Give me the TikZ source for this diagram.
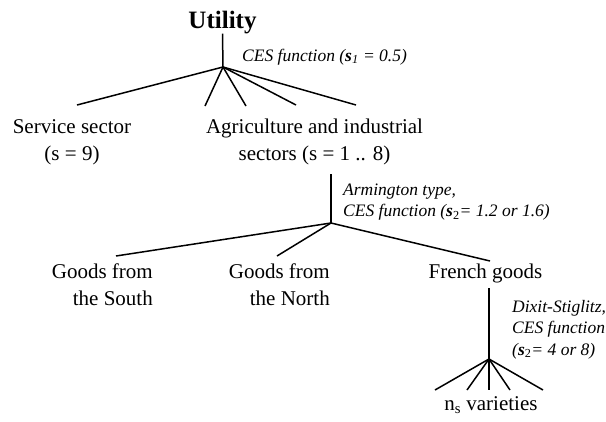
\documentclass[tikz,border=0pt]{standalone}
\usepackage{fontspec}
\setmainfont{Liberation Serif}
\tikzset{
  branch/.style={line width=1.5pt, line cap=butt},
  body/.style={inner sep=0pt, font=\fontsize{21}{27}\selectfont},
  title/.style={inner sep=0pt, font=\fontsize{25}{30}\selectfont\bfseries},
  note/.style={inner sep=0pt, anchor=base west, font=\fontsize{17.5}{21.5}\selectfont\itshape},
}
\newcommand{\sig}{\textbf{\textit{s}}}
\newcommand{\ctext}[1]{\begin{tabular}[t]{@{}c@{}}#1\end{tabular}}
\newcommand{\rtext}[1]{\begin{tabular}[t]{@{}r@{}}#1\end{tabular}}
\newcommand{\ltext}[1]{\begin{tabular}[t]{@{}l@{}}#1\end{tabular}}
\begin{document}
\begin{tikzpicture}[x=1pt,y=-1pt]
\useasboundingbox (0,0) rectangle (606,421);
% level 0
\node[title, anchor=base] (u) at (222.5,28) {Utility};
\coordinate (j1) at (223,67);
\draw[branch] (u.south) -- (j1);
\node[note] (l1) at (242,61) {CES function (\sig\textsubscript{\textit{1}} = 0.5)};
\coordinate (e11) at (77,105);
\coordinate (e12) at (205,106);
\coordinate (e13) at (246,106);
\coordinate (e14) at (296,105);
\coordinate (e15) at (356,105);
\foreach \e in {e11,e12,e13,e14,e15} \draw[branch] (j1) -- (\e);
% level 1
\node[body, anchor=base] (serv) at (72,133) {\ctext{Service sector\\(s = 9)}};
\node[body, anchor=base] (agri) at (314.5,133) {\ctext{Agriculture and industrial\\sectors (s = 1 .. 8)}};
\coordinate (t2) at (331,174);
\coordinate (j2) at (331,223);
\draw[branch] (t2) -- (j2);
\node[note] (l2) at (343,195) {\ltext{Armington type,\\CES function (\sig\textsubscript{\upshape 2}= 1.2 or 1.6)}};
\coordinate (e21) at (116,256);
\coordinate (e22) at (277,256);
\coordinate (e23) at (490,261);
\foreach \e in {e21,e22,e23} \draw[branch] (j2) -- (\e);
% level 2
\node[body, anchor=base east] (south) at (153,278) {\rtext{Goods from\\the South}};
\node[body, anchor=base east] (north) at (330,278) {\rtext{Goods from\\the North}};
\node[body, anchor=base] (french) at (485.5,278) {French goods};
\coordinate (t3) at (489,288);
\coordinate (j3) at (489,359);
\draw[branch] (t3) -- (j3);
\node[note] (l3) at (512,312) {\ltext{Dixit-Stiglitz,\\CES function\\(\sig\textsubscript{\upshape 2}= 4 or 8)}};
\coordinate (e31) at (435,390);
\coordinate (e32) at (467,390);
\coordinate (e33) at (489,390);
\coordinate (e34) at (510,390);
\coordinate (e35) at (543,390);
\foreach \e in {e31,e32,e33,e34,e35} \draw[branch] (j3) -- (\e);
% level 3
\node[body, anchor=base] (var) at (491,410) {n\textsubscript{s} varieties};
\end{tikzpicture}
\end{document}
